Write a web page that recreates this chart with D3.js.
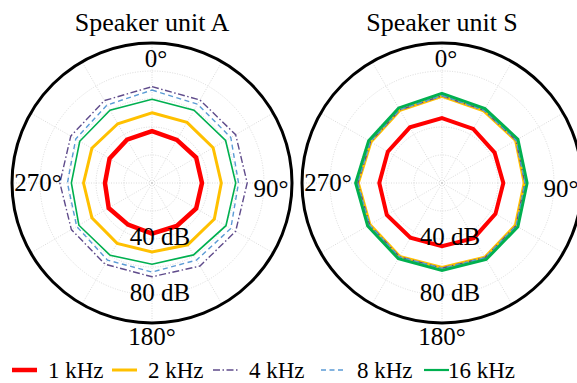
<!DOCTYPE html>
<html>
<head>
<meta charset="utf-8">
<script src="https://cdn.jsdelivr.net/npm/d3@7"></script>
<style>
body { margin: 0; background: #fff; }
svg { display: block; }
</style>
</head>
<body>
<div id="graph"></div>
<script>
(function(){
"use strict";

// measurement angles, degrees (0 at top, clockwise)
var angles = [0, 30, 60, 90, 120, 150, 180, 210, 240, 270, 300, 330];
var freqLabels = ["1 kHz", "2 kHz", "4 kHz", "8 kHz", "16 kHz"];
var rTicks = [20, 40, 60, 80];
var rLabelTicks = [40, 80];
var angleTicks = [0, 90, 180, 270];

// speaker unit A, dB
var unitA_1k  = [37, 35.5, 36.4, 35.7, 36.4, 35.4, 36.2, 34.3, 35.7, 33.6, 35, 35.7];
var unitA_2k  = [50.2, 50, 50.4, 49.5, 51.4, 51, 49.3, 49.8, 49.6, 48.9, 49.6, 48.9];
var unitA_4k  = [68.8, 68.5, 69, 68, 69, 68.5, 67, 67, 66.5, 65.8, 67, 68];
var unitA_8k  = [66.4, 65, 65, 61.8, 65, 63.6, 63.6, 63.6, 62.1, 60.4, 62.9, 64.3];
var unitA_16k = [59.8, 60, 60.7, 59.8, 61, 59.3, 58, 59.7, 60.3, 57.6, 59.6, 60];

// speaker unit S, dB
var unitS_1k  = [46.4, 44.6, 43.4, 43.8, 44.1, 45.5, 45.2, 45.2, 45.5, 44.8, 44.7, 45.9];
var unitS_2k  = [61.9, 59.5, 60.7, 58.7, 60.5, 61.2, 60.3, 60.5, 59.4, 59.8, 58.6, 60];
var unitS_4k  = [62.3, 59.9, 61, 59.2, 61, 61.5, 60.8, 60.8, 59.7, 60.1, 58.9, 60.3];
var unitS_8k  = [62.5, 60, 61.2, 59.4, 61.2, 61.7, 61, 61, 59.9, 60.3, 59.1, 60.5];
var unitS_16k = [64, 61.4, 62.6, 60.8, 62.6, 63.1, 62.5, 62.4, 61.3, 61.7, 60.5, 61.9];

var width = 577;
var height = 383;
var radius = 140;
var font = "Liberation Serif, DejaVu Serif";
var colors = ["#ff0000", "#ffc000", "#5f4b8b", "#5b9bd5", "#00b050"];
var dashes = [null, null, "7,2.5,1.5,2.5", "5,3.5", null];

var svg = d3.select("#graph")
	.append("svg")
		.attr("width", width)
		.attr("height", height)
		.attr("font-family", font);

var r = d3.scaleLinear()
	.domain([0, 100])
	.range([0, radius]);

var angleLabelPos = {0: [4, -124.5], 90: [119, 5], 180: [0, 153.5], 270: [-114, -1]};

function drawPolar(cx, cy, title, series, widths){
	var g = svg.append("g")
		.attr("transform", "translate(" + cx + "," + cy + ")");

	// spokes
	g.selectAll(".spoke")
		.data(d3.range(0, 360, 30))
		.enter()
		.append("line")
			.attr("x1", 0)
			.attr("y1", 0)
			.attr("x2", function(d){ return r(100) * Math.sin(d * Math.PI / 180); })
			.attr("y2", function(d){ return -r(100) * Math.cos(d * Math.PI / 180); })
			.attr("stroke", "#d0d0d0")
			.attr("stroke-width", 0.8)
			.attr("stroke-dasharray", "1,1.5");

	// rings
	g.selectAll(".ring")
		.data(rTicks)
		.enter()
		.append("circle")
			.attr("r", function(d){ return r(d); })
			.attr("fill", "none")
			.attr("stroke", "#d0d0d0")
			.attr("stroke-width", 0.8)
			.attr("stroke-dasharray", "1,1.5");

	var line = d3.lineRadial()
		.angle(function(d, i){ return angles[i] * Math.PI / 180; })
		.radius(function(d){ return r(d); })
		.curve(d3.curveLinearClosed);

	series.forEach(function(s, i){
		g.append("path")
			.datum(s)
			.attr("d", line)
			.attr("fill", "none")
			.attr("stroke", colors[i])
			.attr("stroke-width", widths[i])
			.attr("stroke-dasharray", dashes[i])
			.attr("stroke-linejoin", "miter");
	});

	// outer border
	g.append("circle")
		.attr("r", r(100))
		.attr("fill", "none")
		.attr("stroke", "#000")
		.attr("stroke-width", 3);

	g.selectAll(".rlabel")
		.data(rLabelTicks)
		.enter()
		.append("text")
			.attr("x", 8)
			.attr("y", function(d){ return r(d) - 3; })
			.attr("text-anchor", "middle")
			.attr("dominant-baseline", "central")
			.attr("font-size", 25)
			.text(function(d){ return d + " dB"; });

	g.selectAll(".alabel")
		.data(angleTicks)
		.enter()
		.append("text")
			.attr("x", function(d){ return angleLabelPos[d][0]; })
			.attr("y", function(d){ return angleLabelPos[d][1]; })
			.attr("text-anchor", "middle")
			.attr("dominant-baseline", "central")
			.attr("font-size", 25)
			.text(function(d){ return d + "\u00b0"; });

	svg.append("text")
		.attr("x", cx)
		.attr("y", 31)
		.attr("text-anchor", "middle")
		.attr("font-size", 26)
		.text(title);
}

drawPolar(152, 183, "Speaker unit A",
	[unitA_1k, unitA_2k, unitA_4k, unitA_8k, unitA_16k],
	[4.5, 3, 1.4, 1.4, 1.6]);
drawPolar(442, 183, "Speaker unit S",
	[unitS_1k, unitS_2k, unitS_4k, unitS_8k, unitS_16k],
	[4, 3, 1.4, 1.6, 3]);

// legend
var legendX = [12, 112, 213, 321, 424];
var legendW = [4.5, 3, 1.6, 1.6, 2.2];
var legend = svg.selectAll(".legend")
	.data(freqLabels)
	.enter()
	.append("g")
		.attr("transform", function(d, i){ return "translate(" + legendX[i] + ",370)"; });

legend.append("line")
	.attr("x1", 0)
	.attr("x2", 25)
	.attr("y1", 0)
	.attr("y2", 0)
	.attr("stroke", function(d, i){ return colors[i]; })
	.attr("stroke-width", function(d, i){ return legendW[i]; })
	.attr("stroke-dasharray", function(d, i){ return dashes[i]; });

legend.append("text")
	.attr("x", function(d, i){ return i == 4 ? 24 : 36; })
	.attr("y", 0)
	.attr("dominant-baseline", "central")
	.attr("font-size", 23)
	.text(function(d){ return d; });
})();
</script>
</body>
</html>
